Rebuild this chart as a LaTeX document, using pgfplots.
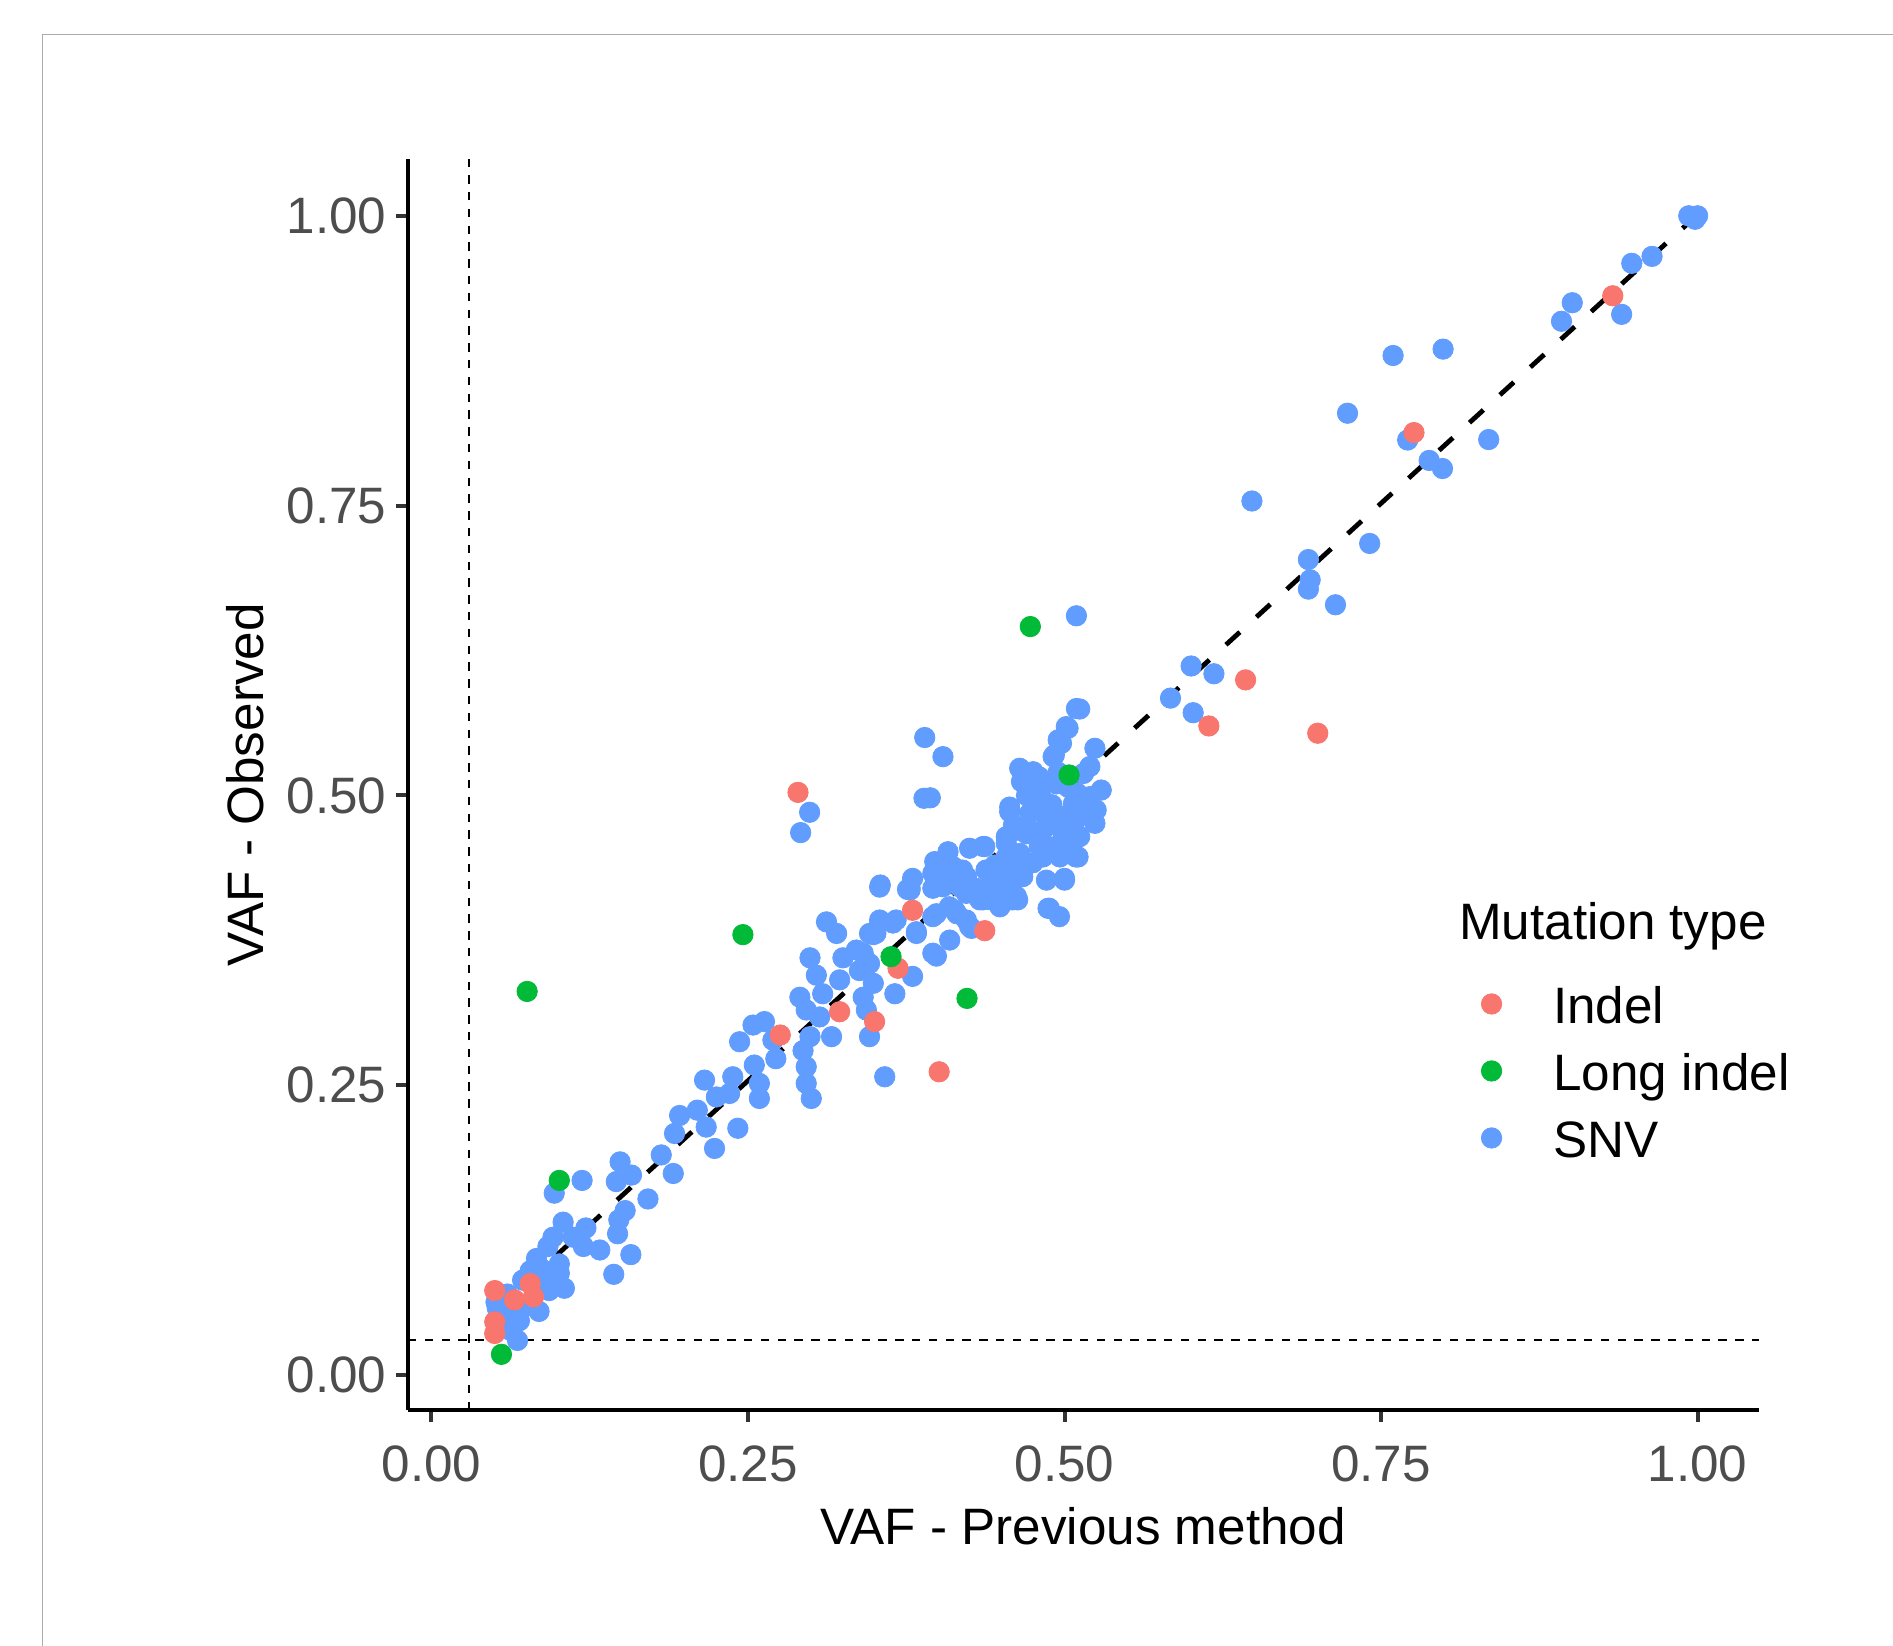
\documentclass[border=0pt]{standalone}
\usepackage{pgfplots}
\pgfplotsset{compat=1.18}
\usepackage{fontspec}
\setmainfont{Liberation Sans}
\definecolor{cIndel}{HTML}{F8766D}
\definecolor{cLong}{HTML}{00BA38}
\definecolor{cSNV}{HTML}{619CFF}
\definecolor{tickgray}{HTML}{4D4D4D}
\definecolor{tickline}{HTML}{333333}
\definecolor{framegray}{HTML}{ABABAB}
\newcommand{\fs}{\fontsize{12.8}{15}\selectfont}
\begin{document}
\begin{tikzpicture}
\useasboundingbox (0,0) rectangle (473.25pt,411.5pt);
\draw[framegray, line width=0.35pt] (10.6pt,-5pt) rectangle (480pt,402.8pt);
\begin{axis}[
  at={(102pt,59pt)}, anchor=south west,
  scale only axis, width=337.75pt, height=312.75pt,
  xmin=-0.0185, xmax=1.0485, ymin=-0.030, ymax=1.049,
  axis lines*=left,
  axis line style={black, line width=1.05pt, -},
  xtick={0,0.25,0.5,0.75,1}, xticklabels={0.00,0.25,0.50,0.75,1.00},
  ytick={0,0.25,0.5,0.75,1}, yticklabels={0.00,0.25,0.50,0.75,1.00},
  tick align=outside, major tick length=3pt,
  tick style={tickline, line width=1pt},
  ticklabel style={font=\fs, text=tickgray, inner sep=0pt},
  xticklabel style={yshift=-5.75pt},
  yticklabel style={xshift=-2.2pt},
  legend style={at={(0.7945,0.3395)}, anchor=north west, draw=none, fill=none,
    inner sep=0pt, outer sep=0pt, row sep=4.25pt, column sep=12.85pt, font=\fs,
    cells={anchor=base west},
    nodes={inner sep=0pt, text height=9.5pt, text depth=3pt}},
  legend image code/.code={\draw[#1] plot coordinates {(0pt,4.83pt)};},
  every axis plot/.append style={mark size=2.55pt, line width=0.2pt},
]
% SNV
\addplot[only marks, mark=*, color=cSNV, forget plot] coordinates {
(0.051,0.063) (0.054,0.053) (0.0695,0.047) (0.062,0.039) (0.068,0.030) (0.072,0.082)
(0.085,0.055) (0.093,0.073) (0.105,0.075) (0.083,0.1007) (0.092,0.111) (0.101,0.096)
(0.104,0.132) (0.122,0.127) (0.120,0.111) (0.133,0.108) (0.112,0.119) (0.096,0.119)
(0.101,0.088) (0.088,0.091) (0.119,0.168) (0.097,0.157) (0.052,0.058) (0.060,0.070)
(0.066,0.056) (0.075,0.060) (0.058,0.043) (0.078,0.090) (0.090,0.080)
(0.144,0.087) (0.1575,0.104) (0.147,0.122) (0.153,0.142) (0.148,0.134) (0.171,0.152)
(0.149,0.184) (0.146,0.167) (0.158,0.1726) (0.1815,0.190) (0.191,0.174) (0.192,0.2085)
(0.196,0.224) (0.210,0.2286) (0.217,0.214) (0.2236,0.1956)
(0.354,0.421) (0.378,0.420) (0.396,0.420) (0.312,0.391) (0.320,0.381) (0.354,0.390)
(0.3645,0.390) (0.349,0.380) (0.383,0.381) (0.396,0.3955) (0.396,0.364) (0.3356,0.3667)
(0.325,0.360) (0.346,0.355) (0.299,0.360) (0.304,0.345) (0.3224,0.341) (0.338,0.349)
(0.349,0.338) (0.380,0.344) (0.366,0.329) (0.309,0.329) (0.291,0.326) (0.296,0.315)
(0.3066,0.309) (0.341,0.326) (0.3435,0.315) (0.346,0.292) (0.316,0.292) (0.299,0.292)
(0.2935,0.280) (0.296,0.266) (0.296,0.2517) (0.300,0.2387) (0.358,0.2574) (0.254,0.302)
(0.263,0.305) (0.2434,0.2876) (0.2697,0.289) (0.255,0.2675) (0.272,0.273) (0.259,0.2517)
(0.259,0.2387) (0.238,0.2574) (0.2157,0.2545) (0.225,0.240) (0.2355,0.243) (0.242,0.213)
(0.2987,0.4855) (0.2916,0.468) (0.3896,0.550) (0.404,0.5335) (0.389,0.4976) (0.394,0.498)
(0.5094,0.575) (0.3545,0.4228) (0.380,0.4285) (0.376,0.419) (0.3975,0.443) (0.408,0.4515)
(0.425,0.4545) (0.4357,0.456) (0.454,0.4588) (0.4567,0.490) (0.4646,0.5235) (0.4752,0.5205)
(0.466,0.512) (0.475,0.490) (0.470,0.473) (0.491,0.5335) (0.5014,0.5594) (0.495,0.548)
(0.5068,0.479) (0.499,0.4645) (0.4857,0.456) (0.4646,0.450) (0.454,0.447) (0.396,0.433)
(0.412,0.4386) (0.4225,0.430) (0.438,0.4357) (0.404,0.4213) (0.4225,0.4156) (0.4435,0.424)
(0.459,0.427) (0.463,0.410) (0.4857,0.427) (0.500,0.427) (0.487,0.4027) (0.496,0.3955)
(0.449,0.404) (0.4357,0.410) (0.3988,0.398) (0.4133,0.401) (0.4225,0.3926) (0.4265,0.3854)
(0.4093,0.3753) (0.3988,0.3615) (0.354,0.3926) (0.383,0.3825) (0.341,0.364) (0.351,0.381)
(0.5094,0.655) (0.512,0.5746) (0.5028,0.558) (0.4976,0.545) (0.524,0.5407) (0.520,0.525)
(0.478,0.516) (0.529,0.5047) (0.525,0.4875) (0.524,0.476) (0.5107,0.447) (0.500,0.4285)
(0.4567,0.486) (0.4765,0.4875) (0.442,0.410) (0.437,0.456) (0.467,0.4357)
(0.600,0.6117) (0.618,0.605) (0.5837,0.584) (0.6016,0.5714)
(0.492,0.535) (0.467,0.513) (0.480,0.516) (0.4935,0.510) (0.515,0.519) (0.520,0.499)
(0.507,0.493) (0.483,0.496) (0.4725,0.4846) (0.4935,0.4817) (0.509,0.479) (0.454,0.4645)
(0.470,0.467) (0.483,0.470) (0.499,0.467) (0.512,0.4645) (0.480,0.456) (0.4935,0.456)
(0.509,0.447) (0.467,0.444) (0.483,0.447) (0.4963,0.447) (0.467,0.430) (0.446,0.427)
(0.462,0.413) (0.4435,0.4156) (0.488,0.4027)
(0.480,0.503) (0.490,0.492) (0.500,0.482) (0.470,0.500) (0.510,0.502) (0.503,0.507)
(0.486,0.476) (0.462,0.470) (0.475,0.442) (0.505,0.456) (0.515,0.485) (0.495,0.520)
(0.458,0.440) (0.430,0.420) (0.445,0.440)
(0.378,0.4185) (0.4597,0.4746) (0.399,0.4285) (0.409,0.4357) (0.4195,0.4357) (0.417,0.4213)
(0.446,0.433) (0.4515,0.4156) (0.459,0.410) (0.433,0.410) (0.409,0.404) (0.415,0.398)
(0.425,0.387) (0.367,0.3926) (0.346,0.381)
(0.993,1.0) (0.998,0.997) (1.0,1.0) (0.964,0.965) (0.948,0.959) (0.940,0.915)
(0.901,0.925) (0.8925,0.909) (0.799,0.885) (0.7595,0.8795) (0.7235,0.8297) (0.771,0.8066)
(0.835,0.807) (0.788,0.789) (0.7985,0.782) (0.648,0.754) (0.741,0.7174) (0.6926,0.7035)
(0.694,0.686) (0.6926,0.678) (0.714,0.6645)
};
% Indel
\addplot[only marks, mark=*, color=cIndel, forget plot] coordinates {
(0.2895,0.5027) (0.380,0.401) (0.3685,0.351) (0.3224,0.3135) (0.350,0.305) (0.2755,0.2934)
(0.401,0.2617) (0.437,0.3834) (0.643,0.5997) (0.614,0.560) (0.700,0.5537) (0.776,0.813)
(0.933,0.931) (0.050,0.073) (0.050,0.046) (0.050,0.036) (0.0656,0.065) (0.078,0.079)
(0.0806,0.0676)
};
% Long indel
\addplot[only marks, mark=*, color=cLong, forget plot] coordinates {
(0.0553,0.018) (0.101,0.168) (0.0756,0.331) (0.246,0.380) (0.363,0.361) (0.423,0.325)
(0.473,0.6457) (0.5036,0.5177)
};
% reference lines
\addplot[black, line width=0.5pt, dash pattern=on 2.1pt off 2.1pt, forget plot] coordinates {(0.03,-0.030) (0.03,1.049)};
\addplot[black, line width=0.5pt, dash pattern=on 2.1pt off 2.1pt, forget plot] coordinates {(-0.0185,0.03) (1.0485,0.03)};
\addplot[black, line width=1.2pt, dash pattern=on 4.7pt off 5.6pt, forget plot] coordinates {(0.0505,0.0553) (1.0,1.001)};
% legend
\addlegendimage{only marks, mark=*, color=cIndel, mark size=2.55pt, line width=0.2pt}
\addlegendentry{Indel}
\addlegendimage{only marks, mark=*, color=cLong, mark size=2.55pt, line width=0.2pt}
\addlegendentry{Long indel}
\addlegendimage{only marks, mark=*, color=cSNV, mark size=2.55pt, line width=0.2pt}
\addlegendentry{SNV}
\end{axis}
\node[anchor=base, font=\fs] at (270.75pt,25.25pt) {VAF - Previous method};
\node[anchor=base, rotate=90, font=\fs] at (65.75pt,215.25pt) {VAF - Observed};
\node[anchor=base west, font=\fs, inner sep=0pt] at (364.6pt,176.5pt) {Mutation type};
\end{tikzpicture}
\end{document}
